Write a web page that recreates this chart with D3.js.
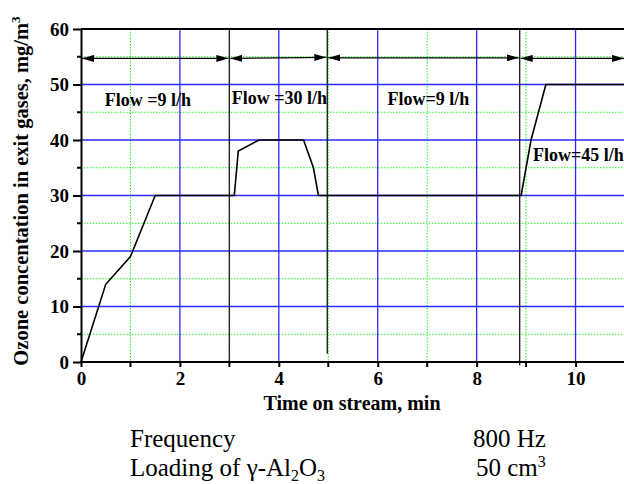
<!DOCTYPE html>
<html>
<head>
<meta charset="utf-8">
<script src="https://cdn.jsdelivr.net/npm/d3@7"></script>
<style>
  body { margin: 0; background: #fff; }
  svg text { font-family: "Liberation Serif", "Times New Roman", serif; }
</style>
</head>
<body>
<div class="chart"></div>
<script>
// measured ozone concentration vs time
const timeMin = [0, 0.5, 1, 1.5, 3.1, 3.18, 3.6, 4.5, 4.7, 4.8, 8.9, 9.1, 9.4, 11];
const ozone = [0, 14, 19, 30, 30, 38, 40, 40, 35, 30, 30, 40, 50, 50];

// flow switch times (vertical black lines)
const switchTimes = [3, 4.98, 8.87];
const switchEnds = [0, 1.5, -0.6];

// flow interval arrows: start, end, height
const arrowStart = [0, 3, 4.98, 8.87];
const arrowEnd = [3, 4.98, 8.87, 11];
const arrowY0 = [54.7, 54.7, 54.8, 54.7];
const arrowY1 = [54.7, 54.9, 54.8, 54.7];

// flow labels
const flowLabels = ["Flow =9 l/h", "Flow =30 l/h", "Flow=9 l/h", "Flow=45 l/h"];
const flowX = [0.48, 3.05, 6.2, 9.14];
const flowY = [46.1, 46.5, 46.3, 36.3];

const xTicks = [0, 2, 4, 6, 8, 10];
const xMinor = [1, 3, 5, 7, 9];
const yTicks = [0, 10, 20, 30, 40, 50, 60];
const yMinor = [5, 15, 25, 35, 45, 55];

const serif = '"Liberation Serif", "Times New Roman", serif';
const width = 624, height = 484;
const margin = {top: 29, left: 81, bottom: 122};

const svg = d3.select('.chart')
  .append('svg')
  .attr('width', width)
  .attr('height', height)
  .attr('font-family', serif);

const x = d3.scaleLinear().domain([0, 11]).range([margin.left, 625]);
const y = d3.scaleLinear().domain([0, 60]).range([height - margin.bottom, margin.top]);

// grid lines
const grid = svg.append('g');
grid.selectAll('line.hMinor').data(yMinor).enter().append('line')
  .attr('x1', x(0)).attr('x2', width)
  .attr('y1', d => y(d)).attr('y2', d => y(d))
  .attr('stroke', '#22ee22').attr('stroke-dasharray', '1.5,1.5');
grid.selectAll('line.vMinor').data(xMinor).enter().append('line')
  .attr('x1', d => x(d)).attr('x2', d => x(d))
  .attr('y1', y(60)).attr('y2', y(0))
  .attr('stroke', '#22ee22').attr('stroke-dasharray', '1.5,1.5');
grid.selectAll('line.hMajor').data(yTicks.slice(1, -1)).enter().append('line')
  .attr('x1', x(0)).attr('x2', width)
  .attr('y1', d => y(d)).attr('y2', d => y(d))
  .attr('stroke', '#2a2aff').attr('stroke-width', 1.3);
grid.selectAll('line.vMajor').data(xTicks.slice(1)).enter().append('line')
  .attr('x1', d => x(d)).attr('x2', d => x(d))
  .attr('y1', y(60)).attr('y2', y(0))
  .attr('stroke', '#2a2aff').attr('stroke-width', 1.3);

// switch lines
svg.selectAll('line.switch').data(switchTimes).enter().append('line')
  .attr('x1', d => x(d)).attr('x2', d => x(d))
  .attr('y1', y(60))
  .attr('y2', (d, i) => y(switchEnds[i]))
  .attr('stroke', '#222').attr('stroke-width', 1.4);

// arrows
const defs = svg.append('defs');
defs.append('marker')
  .attr('id', 'arr')
  .attr('viewBox', '0 0 12 7')
  .attr('refX', 12).attr('refY', 3.5)
  .attr('markerWidth', 12).attr('markerHeight', 7)
  .attr('markerUnits', 'userSpaceOnUse')
  .attr('orient', 'auto-start-reverse')
  .append('path')
  .attr('d', 'M0,0L12,3.5L0,7Z')
  .attr('fill', '#000');

svg.selectAll('line.arrow').data(arrowStart).enter().append('line')
  .attr('x1', d => x(d) + 1)
  .attr('x2', (d, i) => x(arrowEnd[i]) - 1)
  .attr('y1', (d, i) => y(arrowY0[i]))
  .attr('y2', (d, i) => y(arrowY1[i]))
  .attr('stroke', '#000').attr('stroke-width', 1.2)
  .attr('marker-start', 'url(#arr)')
  .attr('marker-end', 'url(#arr)');

// data line
const line = d3.line()
  .x((d, i) => x(timeMin[i]))
  .y(d => y(d));
svg.append('path')
  .datum(ozone)
  .attr('d', line)
  .attr('fill', 'none')
  .attr('stroke', '#000')
  .attr('stroke-width', 1.6);

// top frame line
svg.append('line')
  .attr('x1', x(0)).attr('x2', width)
  .attr('y1', y(60)).attr('y2', y(60))
  .attr('stroke', '#000').attr('stroke-width', 2);

// axes
const xAxis = svg.append('g')
  .attr('transform', `translate(0,${y(0)})`)
  .call(d3.axisBottom(x).tickValues(xTicks).tickSize(5).tickSizeOuter(0).tickPadding(5));
xAxis.append('g').selectAll('line').data(xMinor).enter().append('line')
  .attr('x1', d => x(d)).attr('x2', d => x(d))
  .attr('y1', 0).attr('y2', 5).attr('stroke', '#000').attr('stroke-width', 2);

const yAxis = svg.append('g')
  .attr('transform', `translate(${x(0)},0)`)
  .call(d3.axisLeft(y).tickValues(yTicks).tickSize(8).tickSizeOuter(0).tickPadding(4));
yAxis.append('g').selectAll('line').data(yMinor).enter().append('line')
  .attr('x1', -4).attr('x2', 0)
  .attr('y1', d => y(d)).attr('y2', d => y(d))
  .attr('stroke', '#000').attr('stroke-width', 2);

[xAxis, yAxis].forEach(a => {
  a.attr('font-family', serif);
  a.select('.domain').attr('stroke', '#000').attr('stroke-width', 2);
  a.selectAll('.tick line').attr('stroke', '#000').attr('stroke-width', 2);
  a.selectAll('.tick text')
    .style('font-weight', 'bold')
    .style('font-size', '19px')
    .attr('fill', '#000');
});
xAxis.select('.domain').attr('d', `M${x(0)},0H${width}`);

// flow labels
svg.selectAll('text.flow').data(flowLabels).enter().append('text')
  .attr('x', (d, i) => x(flowX[i]))
  .attr('y', (d, i) => y(flowY[i]))
  .style('font-weight', 'bold')
  .style('font-size', '18px')
  .text(d => d);

// axis titles
svg.append('text')
  .attr('x', 352).attr('y', 410)
  .attr('text-anchor', 'middle')
  .style('font-weight', 'bold')
  .style('font-size', '20px')
  .text('Time on stream, min');

const yTitle = svg.append('text')
  .attr('transform', 'translate(28,191) rotate(-90)')
  .attr('text-anchor', 'middle')
  .style('font-weight', 'bold')
  .style('font-size', '20.5px');
yTitle.append('tspan').text('Ozone concentation in exit gases, mg/m');
yTitle.append('tspan').attr('dy', -8).style('font-size', '13px').text('3');

// conditions below the chart
const info = svg.append('g').style('font-size', '25px');
info.append('text').attr('x', 130).attr('y', 447).text('Frequency');
info.append('text').attr('x', 473).attr('y', 447).text('800 Hz');
const load = info.append('text').attr('x', 130).attr('y', 476);
load.append('tspan').text('Loading of \u03b3-Al');
load.append('tspan').attr('dy', 5).style('font-size', '16px').text('2');
load.append('tspan').attr('dy', -5).text('O');
load.append('tspan').attr('dy', 5).style('font-size', '16px').text('3');
const vol = info.append('text').attr('x', 476).attr('y', 476);
vol.append('tspan').text('50 cm');
vol.append('tspan').attr('dy', -9).style('font-size', '16px').text('3');
</script>
</body>
</html>
